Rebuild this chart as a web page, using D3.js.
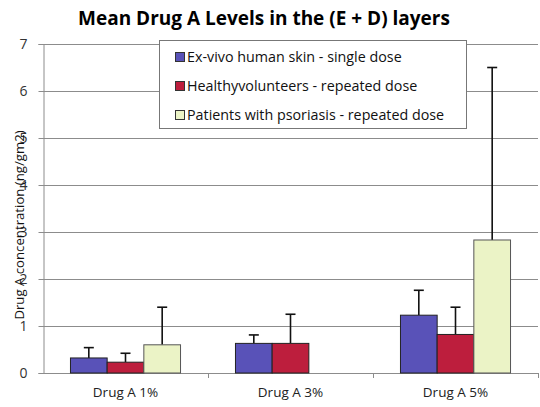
<!DOCTYPE html>
<html>
<head>
<meta charset="utf-8">
<script src="https://cdn.jsdelivr.net/npm/d3@7/dist/d3.min.js"></script>
<style>
  body { margin: 0; background: #fff; }
  text { font-family: 'Open Sans', 'Liberation Sans', sans-serif; }
</style>
</head>
<body>
<svg id="chart" width="540" height="407"></svg>
<script>
const categories = ['Drug A 1%', 'Drug A 3%', 'Drug A 5%'];
const seriesNames = [
  'Ex-vivo human skin - single dose',
  'Healthyvolunteers - repeated dose',
  'Patients with psoriasis - repeated dose'
];
const seriesColors = ['#5952b8', '#bd1e3d', '#ebf3c6'];
const exVivo = [0.32, 0.63, 1.23];
const healthy = [0.23, 0.63, 0.82];
const psoriasis = [0.60, 0, 2.83];
const exVivoErr = [0.22, 0.18, 0.53];
const healthyErr = [0.19, 0.62, 0.58];
const psoriasisErr = [0.80, 0, 3.67];
const yTicks = [0, 1, 2, 3, 4, 5, 6, 7];

const values = [exVivo, healthy, psoriasis];
const errors = [exVivoErr, healthyErr, psoriasisErr];

const svg = d3.select('#chart');
const margin = { left: 43, right: 2, top: 44, bottom: 34 };
const width = 540, height = 407;

const x = d3.scaleBand()
  .domain(categories)
  .range([margin.left, width - margin.right])
  .paddingInner(0.333)
  .paddingOuter(0.1665);

const x1 = d3.scaleBand()
  .domain(d3.range(seriesNames.length))
  .range([0, x.bandwidth()]);

const y = d3.scaleLinear()
  .domain([0, 7])
  .range([height - margin.bottom, margin.top]);

// title
svg.append('text')
  .attr('x', 264)
  .attr('y', 25)
  .attr('text-anchor', 'middle')
  .style('font-size', '19px')
  .style('font-weight', 'bold')
  .text('Mean Drug A Levels in the (E + D) layers');

// gridlines
svg.append('g')
  .selectAll('line')
  .data(yTicks.filter(d => d > 0))
  .enter().append('line')
  .attr('x1', margin.left)
  .attr('x2', width - margin.right)
  .attr('y1', d => y(d) + 0.5)
  .attr('y2', d => y(d) + 0.5)
  .attr('stroke', '#8c8c8c');

// y axis
const yAxis = svg.append('g')
  .attr('transform', `translate(${margin.left + 0.5},0)`)
  .call(d3.axisLeft(y).tickValues(yTicks).tickFormat(d3.format('d')).tickSize(5).tickPadding(11));
yAxis.select('.domain').attr('stroke', '#8c8c8c');
yAxis.selectAll('.tick line').attr('stroke', '#8c8c8c');
yAxis.selectAll('.tick text')
  .style('font-size', '14px')
  .style('font-family', "'Open Sans', sans-serif")
  .attr('fill', '#333');

// x axis
const xAxis = svg.append('g')
  .attr('transform', `translate(0,${y(0) + 0.5})`)
  .call(d3.axisBottom(x).tickSize(0).tickPadding(14));
xAxis.select('.domain').attr('stroke', '#8c8c8c').attr('d', `M${margin.left},0H${width - margin.right}`);
xAxis.selectAll('.tick text')
  .style('font-size', '13.5px')
  .style('font-family', "'Open Sans', sans-serif")
  .attr('fill', '#222');
const sep = x.step();
svg.append('g')
  .selectAll('line')
  .data(d3.range(1, categories.length + 1))
  .enter().append('line')
  .attr('x1', i => margin.left + i * sep + 0.5)
  .attr('x2', i => margin.left + i * sep + 0.5)
  .attr('y1', y(0))
  .attr('y2', y(0) + 5)
  .attr('stroke', '#8c8c8c');

// bars
const groups = svg.append('g')
  .selectAll('g')
  .data(seriesNames)
  .enter().append('g');

groups.each(function (name, s) {
  const g = d3.select(this);
  const rows = categories.map((c, i) => ({ c, v: values[s][i], e: errors[s][i] }))
    .filter(d => d.v > 0);
  g.selectAll('line.err')
    .data(rows)
    .enter().append('line')
    .attr('class', 'err')
    .attr('x1', d => x(d.c) + x1(s) + x1.bandwidth() / 2)
    .attr('x2', d => x(d.c) + x1(s) + x1.bandwidth() / 2)
    .attr('y1', d => y(d.v))
    .attr('y2', d => y(d.v + d.e))
    .attr('stroke', '#111')
    .attr('stroke-width', 1.6);
  g.selectAll('line.cap')
    .data(rows)
    .enter().append('line')
    .attr('class', 'cap')
    .attr('x1', d => x(d.c) + x1(s) + x1.bandwidth() / 2 - 5)
    .attr('x2', d => x(d.c) + x1(s) + x1.bandwidth() / 2 + 5)
    .attr('y1', d => y(d.v + d.e))
    .attr('y2', d => y(d.v + d.e))
    .attr('stroke', '#111')
    .attr('stroke-width', 1.6);
  g.selectAll('rect')
    .data(rows)
    .enter().append('rect')
    .attr('x', d => x(d.c) + x1(s))
    .attr('y', d => y(d.v))
    .attr('width', x1.bandwidth())
    .attr('height', d => y(0) - y(d.v))
    .attr('fill', seriesColors[s])
    .attr('stroke', s === 2 ? '#555' : '#222')
    .attr('stroke-width', 1);
});

// y axis title
svg.append('text')
  .attr('transform', 'translate(24,225) rotate(-90)')
  .attr('text-anchor', 'middle')
  .style('font-size', '13.2px')
  .attr('fill', '#111')
  .text('Drug A concentration (ng/gm2)');

// legend
const legend = svg.append('g').attr('class', 'legend');
legend.append('rect')
  .attr('x', 159.5)
  .attr('y', 40.5)
  .attr('width', 307)
  .attr('height', 88)
  .attr('fill', '#fff')
  .attr('stroke', '#777');

legend.selectAll('rect.key')
  .data(seriesNames)
  .enter().append('rect')
  .attr('class', 'key')
  .attr('x', 175.5)
  .attr('y', (d, i) => 52.5 + i * 29)
  .attr('width', 9)
  .attr('height', 9)
  .attr('fill', (d, i) => seriesColors[i])
  .attr('stroke', '#333');

legend.selectAll('text')
  .data(seriesNames)
  .enter().append('text')
  .attr('x', 187)
  .attr('y', (d, i) => 62 + i * 29)
  .style('font-size', '14.3px')
  .attr('fill', '#111')
  .text(d => d);
</script>
</body>
</html>
